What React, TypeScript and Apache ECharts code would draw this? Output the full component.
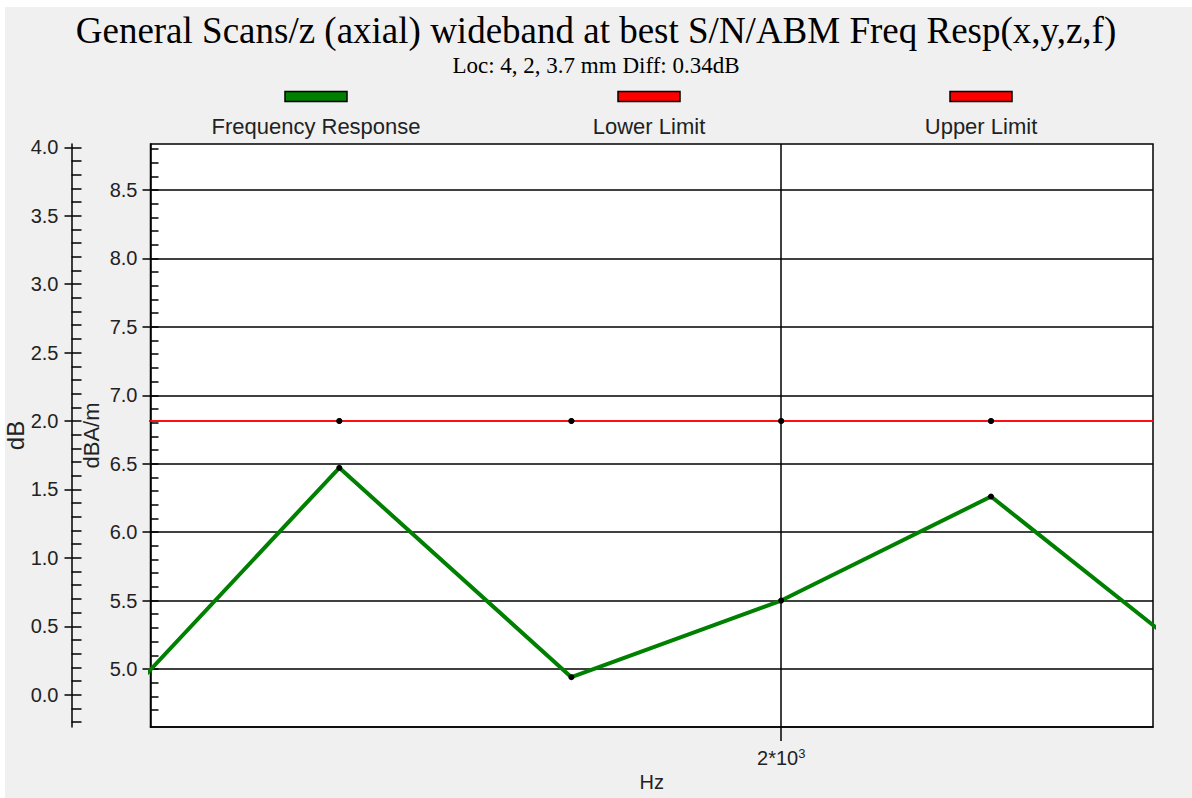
import React, { useEffect, useRef } from "react";
import * as echarts from "echarts";

const titleText = "General Scans/z (axial) wideband at best S/N/ABM Freq Resp(x,y,z,f)";
const subtitleText = "Loc: 4, 2, 3.7 mm Diff: 0.34dB";

const frequencies = [1000, 1250, 1600, 2000, 2500, 3150];
const responseDbaM = [4.83, 6.47, 4.94, 5.5, 6.26, 5.0];
const lowerLimitDb = [2.0, 2.0, 2.0, 2.0, 2.0, 2.0];
const upperLimitDb = [2.0, 2.0, 2.0, 2.0, 2.0, 2.0];

const legendNames = ["Frequency Response", "Lower Limit", "Upper Limit"];
const legendColors = ["#008000", "#ff0000", "#ff0000"];

const dbaTicks = [5.0, 5.5, 6.0, 6.5, 7.0, 7.5, 8.0, 8.5];
const dbTicks = [0.0, 0.5, 1.0, 1.5, 2.0, 2.5, 3.0, 3.5, 4.0];
const xTicks = [2000];

const dbaMin = 4.576;
const dbaMax = 8.836;
const dbMin = -0.236;
const dbMax = 4.024;
const xMin = 1022.6;
const xMax = 2970;

function minorSteps(from: number, to: number): number[] {
  const out: number[] = [];
  for (let i = Math.round(from * 10); i <= Math.round(to * 10); i++) out.push(i / 10);
  return out;
}

const dbaMinor = minorSteps(4.7, 8.8);
const dbMinor = minorSteps(-0.2, 4.0);

export default function App() {
  const ref = useRef<HTMLDivElement>(null);

  useEffect(() => {
    if (!ref.current) return;
    const chart = echarts.init(ref.current, undefined, { renderer: "svg" });
    const labelFont = { fontFamily: "Liberation Sans, Arial, sans-serif", fontSize: 20, color: "#222" };
    const legendCenters = [316, 649, 981];

    const legendGraphics: any[] = [];
    legendNames.forEach((name, i) => {
      legendGraphics.push({
        type: "rect",
        shape: { x: legendCenters[i] - 31, y: 91.5, width: 62, height: 10 },
        style: { fill: legendColors[i], stroke: "#000", lineWidth: 1.5 },
      });
      legendGraphics.push({
        type: "text",
        x: legendCenters[i],
        y: 126,
        style: {
          text: name,
          align: "center",
          verticalAlign: "middle",
          font: "22px 'Liberation Sans', Arial, sans-serif",
          fill: "#222",
        },
      });
    });

    const seriesData = (vals: number[]) => frequencies.map((f, i) => [f, vals[i]]);

    chart.setOption({
      animation: false,
      backgroundColor: "transparent",
      title: [
        {
          text: titleText,
          left: "center",
          top: 7,
          textStyle: { fontFamily: "Liberation Serif, Times New Roman, serif", fontSize: 37, fontWeight: "normal", color: "#000" },
        },
        {
          text: subtitleText,
          left: "center",
          top: 49,
          textStyle: { fontFamily: "Liberation Serif, Times New Roman, serif", fontSize: 23, fontWeight: "normal", color: "#000" },
        },
      ],
      graphic: legendGraphics,
      grid: {
        left: 150.5,
        top: 144,
        right: 39,
        bottom: 71,
        show: true,
        backgroundColor: "#ffffff",
        borderColor: "#000",
        borderWidth: 1.5,
        containLabel: false,
        outerBoundsMode: "none",
      },
      xAxis: {
        type: "log",
        logBase: 10,
        min: xMin,
        max: xMax,
        name: "Hz",
        nameLocation: "middle",
        nameGap: 45,
        nameMoveOverlap: false,
        nameTextStyle: { ...labelFont },
        axisLine: { show: true, onZero: false, lineStyle: { color: "#000", width: 1.5 } },
        axisTick: { show: true, length: 14, customValues: xTicks, lineStyle: { color: "#000", width: 1.5 } },
        axisLabel: {
          customValues: xTicks,
          margin: 20,
          formatter: (v: number) => {
            const exp = Math.floor(Math.log10(v));
            const mant = Math.round(v / Math.pow(10, exp));
            return `{a|${mant}*10}{b|${exp}}`;
          },
          rich: {
            a: { ...labelFont },
            b: { fontFamily: "Liberation Sans, Arial, sans-serif", fontSize: 13, color: "#222", padding: [0, 0, 9, 0] },
          },
        },
        splitLine: { show: true, lineStyle: { color: "#000", width: 1.5 } },
        minorTick: { show: false },
      },
      yAxis: [
        {
          type: "value",
          position: "left",
          min: dbaMin,
          max: dbaMax,
          name: "dBA/m",
          nameLocation: "middle",
          nameRotate: 90,
          nameGap: 48,
          nameMoveOverlap: false,
          nameTextStyle: { ...labelFont, fontSize: 22 },
          axisLine: { show: true, onZero: false, lineStyle: { color: "#000", width: 1.5 } },
          axisTick: { show: true, length: 8, customValues: dbaTicks, lineStyle: { color: "#000", width: 1.5 } },
          axisLabel: { customValues: dbaTicks, margin: 13, formatter: (v: number) => v.toFixed(1), ...labelFont },
          splitLine: { show: true, lineStyle: { color: "#000", width: 1.5 } },
        },
        {
          type: "value",
          position: "left",
          min: dbaMin,
          max: dbaMax,
          axisLine: { show: false, onZero: false },
          axisTick: { show: true, inside: true, length: 8, customValues: dbaMinor, lineStyle: { color: "#000", width: 1.5 } },
          axisLabel: { show: false },
          splitLine: { show: false },
        },
        {
          type: "value",
          position: "left",
          offset: 79,
          min: dbMin,
          max: dbMax,
          name: "dB",
          nameLocation: "middle",
          nameRotate: 90,
          nameGap: 44,
          nameMoveOverlap: false,
          nameTextStyle: { ...labelFont, fontSize: 24 },
          axisLine: { show: true, onZero: false, lineStyle: { color: "#000", width: 1.5 } },
          axisTick: { show: true, length: 7, customValues: dbTicks, lineStyle: { color: "#000", width: 1.5 } },
          axisLabel: { customValues: dbTicks, margin: 13, formatter: (v: number) => v.toFixed(1), ...labelFont },
          splitLine: { show: false },
        },
        {
          type: "value",
          position: "left",
          offset: 79,
          min: dbMin,
          max: dbMax,
          axisLine: { show: false, onZero: false },
          axisTick: { show: true, inside: true, length: 10, customValues: dbMinor, lineStyle: { color: "#000", width: 1.5 } },
          axisLabel: { show: false },
          splitLine: { show: false },
        },
      ],
      series: [
        {
          name: legendNames[0],
          type: "line",
          xAxisIndex: 0,
          yAxisIndex: 0,
          data: seriesData(responseDbaM),
          symbol: "circle",
          symbolSize: 6,
          itemStyle: { color: "#000" },
          lineStyle: { color: "#008000", width: 4 },
          clip: true,
          z: 5,
        },
        {
          name: legendNames[1],
          type: "line",
          xAxisIndex: 0,
          yAxisIndex: 2,
          data: seriesData(lowerLimitDb),
          symbol: "circle",
          symbolSize: 6,
          itemStyle: { color: "#000" },
          lineStyle: { color: "#ff0000", width: 1.5 },
          clip: true,
          z: 4,
        },
        {
          name: legendNames[2],
          type: "line",
          xAxisIndex: 0,
          yAxisIndex: 2,
          data: seriesData(upperLimitDb),
          symbol: "circle",
          symbolSize: 6,
          itemStyle: { color: "#000" },
          lineStyle: { color: "#ff0000", width: 1.5 },
          clip: true,
          z: 4,
        },
      ],
    });
    return () => chart.dispose();
  }, []);

  return (
    <div style={{ position: "absolute", left: 0, top: 0, width: 1192, height: 798, background: "#ffffff", overflow: "hidden" }}>
      <div style={{ position: "absolute", left: 5, top: 7, width: 1187, height: 791, background: "#f0f0f0" }} />
      <div ref={ref} style={{ position: "absolute", left: 0, top: 0, width: 1192, height: 798 }} />
    </div>
  );
}
